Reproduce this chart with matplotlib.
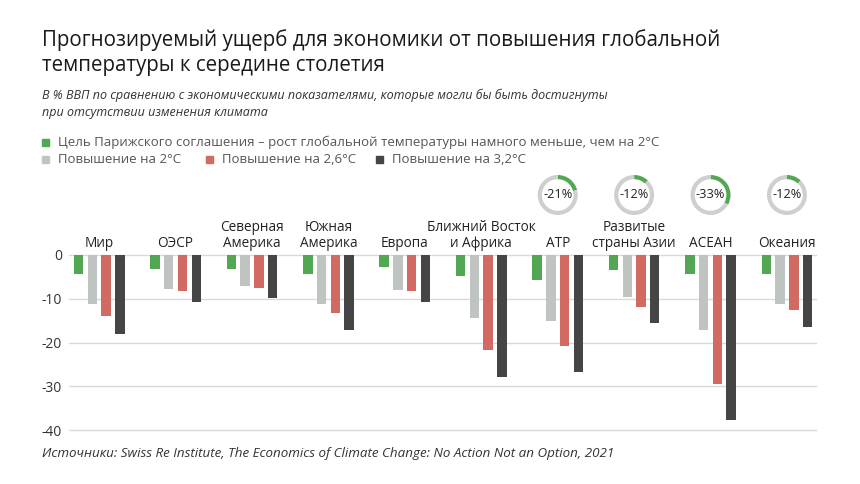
import matplotlib
matplotlib.use("Agg")
import matplotlib.pyplot as plt
import numpy as np

plt.rcParams['font.family'] = ['Open Sans', 'DejaVu Sans']

categories = ["Мир", "ОЭСР", "Северная\nАмерика", "Южная\nАмерика", "Европа",
              "Ближний Восток\nи Африка", "АТР", "Развитые\nстраны Азии", "АСЕАН", "Океания"]
paris = [-4.3, -3.2, -3.3, -4.3, -2.8, -4.8, -5.6, -3.4, -4.3, -4.4]
rise_20 = [-11.1, -7.7, -7.0, -11.1, -7.9, -14.3, -15.0, -9.7, -17.2, -11.3]
rise_26 = [-14.0, -8.3, -7.6, -13.3, -8.3, -21.7, -20.7, -11.9, -29.4, -12.6]
rise_32 = [-18.1, -10.8, -9.8, -17.2, -10.8, -27.8, -26.7, -15.6, -37.8, -16.5]
series_labels = ["Цель Парижского соглашения – рост глобальной температуры намного меньше, чем на 2°C",
                 "Повышение на 2°C", "Повышение на 2,6°C", "Повышение на 3,2°C"]
donut_groups = ["АТР", "Развитые\nстраны Азии", "АСЕАН", "Океания"]
donut_values = [-21, -12, -33, -12]
yticks = [0, -10, -20, -30, -40]
title_lines = ["Прогнозируемый ущерб для экономики от повышения глобальной",
               "температуры к середине столетия"]
subtitle_lines = ["В % ВВП по сравнению с экономическими показателями, которые могли бы быть достигнуты",
                  "при отсутствии изменения климата"]
source = "Источники: Swiss Re Institute, The Economics of Climate Change: No Action Not an Option, 2021"

colors = ["#52a852", "#c0c4c1", "#d06a63", "#454545"]
ring_gray = "#cfcfcf"

W, H = 860, 484
fig = plt.figure(figsize=(W / 100, H / 100), dpi=100)
fig.patch.set_facecolor("white")

def px(x, y):
    return x / W, 1 - y / H

# main axes: x 69..816 px, y 255 (0) .. 430 (-40)
ax = fig.add_axes([69 / W, 1 - 430 / H, (816 - 69) / W, (430 - 255) / H])
ax.set_xlim(-0.395, len(categories) - 1 + 0.38)
ax.set_ylim(-40, 0)
for s in ax.spines.values():
    s.set_visible(False)
ax.set_xticks([])
ax.set_yticks(yticks)
ax.set_yticklabels([str(t) for t in yticks], fontsize=10, color="#333333")
ax.tick_params(axis="y", length=0, pad=5)
for t in yticks:
    ax.axhline(t, color="#d9d9d9", lw=1, zorder=0, clip_on=False)

x = np.arange(len(categories))
bw = 0.124
offsets = [-0.27, -0.09, 0.09, 0.27]
for vals, c, off in zip([paris, rise_20, rise_26, rise_32], colors, offsets):
    ax.bar(x + off, vals, width=bw, color=c, zorder=2)

for i, cat in enumerate(categories):
    lines = cat.split("\n")
    for j, line in enumerate(reversed(lines)):
        ax.annotate(line, xy=(i, 0), xytext=(0, (8 + 16 * j) * 0.72), textcoords="offset points",
                    ha="center", va="baseline", fontsize=9.8, color="#222222",
                    annotation_clip=False)

# donuts
fig.canvas.draw()
r_px = 20
for g, v in zip(donut_groups, donut_values):
    i = categories.index(g)
    cx = ax.transData.transform((i, 0))[0]
    cy = H - 195
    dax = fig.add_axes([(cx - r_px) / W, (cy - r_px) / H, 2 * r_px / W, 2 * r_px / H])
    pct = abs(v)
    dax.pie([pct, 100 - pct], colors=[colors[0], ring_gray], startangle=90,
            counterclock=False, radius=1, wedgeprops=dict(width=0.21, linewidth=0))
    dax.set_xlim(-1, 1)
    dax.set_ylim(-1, 1)
    dax.set_aspect("equal")
    dax.axis("off")
    dax.text(0, 0, f"{v}%", ha="center", va="center", fontsize=9.2, color="#222222")

# title and texts
for k, line in enumerate(title_lines):
    fig.text(*px(42, 46 + 25 * k), line, fontsize=14.8, color="#1a1a1a", va="baseline")
for k, line in enumerate(subtitle_lines):
    fig.text(*px(42, 99 + 16.7 * k), line, fontsize=9.0, style="italic", color="#333333", va="baseline")

legend_rows = [(42, 142.5, 0), (42, 159, 1), (206, 159, 2), (376, 159, 3)]
for lx, ly, k in legend_rows:
    fig.patches.append(plt.Rectangle(px(lx, ly + 3.5), 7 / W, 7 / H, transform=fig.transFigure,
                                     color=colors[k], figure=fig))
    fig.text(*px(lx + 16, ly), series_labels[k], fontsize=9.55, color="#555555", va="center")

fig.text(*px(42, 457), source, fontsize=9.6, style="italic", color="#333333", va="baseline")

fig.savefig("out.png", dpi=100, facecolor="white")
